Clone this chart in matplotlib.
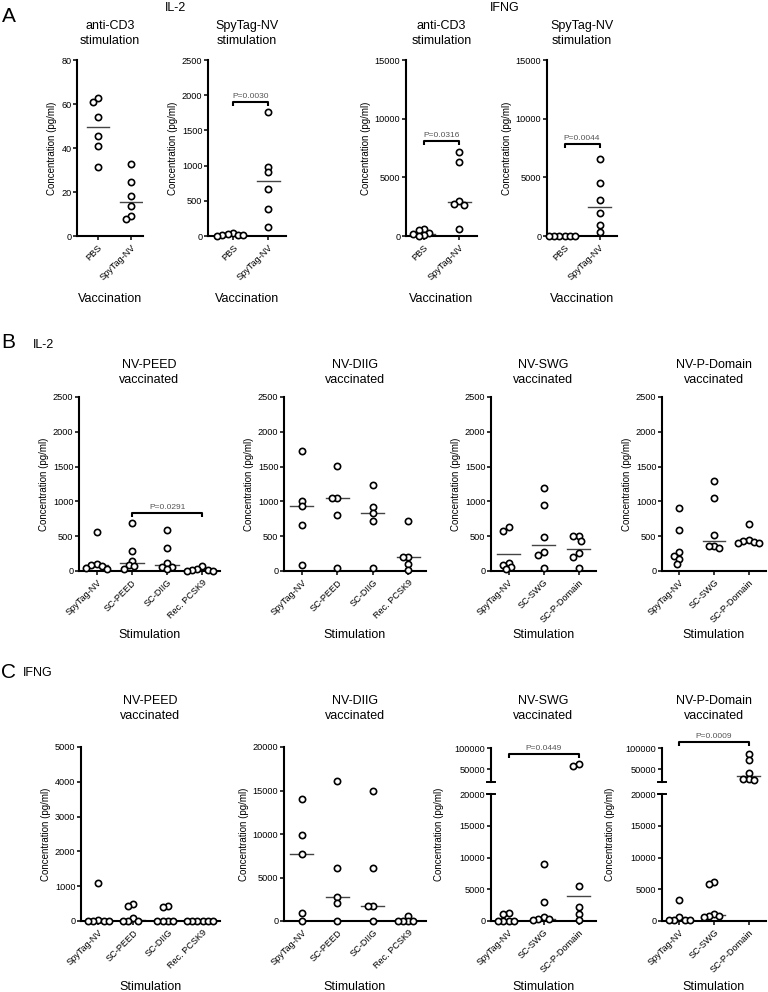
import numpy as np
import matplotlib
matplotlib.use("Agg")
import matplotlib.pyplot as plt

plt.rcParams['font.family'] = ['Liberation Sans', 'DejaVu Sans']

W, H = 768, 992

# ---- A: vaccination groups ----
vacc_groups = ["PBS", "SpyTag-NV"]
a_il2_cd3 = [[62.6, 60.8, 54.1, 45.5, 41.1, 31.5], [32.7, 24.4, 18.0, 13.5, 9.2, 7.7]]
a_il2_cd3_line = [49.5, 15.6]
a_il2_nv = [[45, 30, 20, 15, 10, 5], [1757, 985, 904, 668, 388, 133]]
a_il2_nv_line = [20, 786]
a_ifng_cd3 = [[570, 490, 290, 200, 60, 0], [7140, 6290, 3000, 2710, 2660, 630]]
a_ifng_cd3_line = [200, 2860]
a_ifng_nv = [[40, 30, 20, 10, 5, 0], [6600, 4510, 3030, 1940, 940, 310]]
a_ifng_nv_line = [20, 2460]

# ---- B/C: stimulation groups ----
stim_peed = ["SpyTag-NV", "SC-PEED", "SC-DIIG", "Rec. PCSK9"]
stim_swg = ["SpyTag-NV", "SC-SWG", "SC-P-Domain"]

b_peed = [[557, 96, 86, 67, 38, 24], [691, 288, 149, 82, 72, 29],
          [590, 336, 115, 62, 62, 24], [67, 24, 14, 14, 5, 0]]
b_peed_line = [82, 115, 91, 14]
b_diig = [[1727, 1012, 931, 657, 82], [1507, 1046, 1046, 811, 48],
          [1238, 921, 840, 724, 48], [724, 206, 206, 96, 10]]
b_diig_line = [931, 1046, 840, 200]
b_swg = [[638, 581, 120, 91, 53, 24], [1190, 955, 485, 269, 235, 48],
         [509, 499, 437, 254, 197, 48]]
b_swg_line = [245, 379, 322]
b_pdom = [[907, 590, 278, 221, 173, 101], [1291, 1051, 523, 355, 355, 331],
          [681, 440, 427, 413, 406, 400]]
b_pdom_line = [None, 432, 420]

c_peed = [[1080, 30, 0, 0, 0, 0], [478, 430, 76, 0, 0, 0],
          [430, 411, 0, 0, 0, 0], [0, 0, 0, 0, 0, 0]]
c_peed_line = [0, 20, 0, 0]
c_diig = [[14010, 9940, 7720, 880, 0], [16120, 6140, 2725, 2035, 0],
          [14970, 6140, 1690, 1690, 0], [614, 0, 0, 0, 0]]
c_diig_line = [7720, 2725, 1690, 0]
c_swg = [[1208, 1050, 0, 0, 0, 0], [8976, 3045, 630, 315, 315, 157],
         [62100, 57260, 5512, 2257, 1050, 157]]
c_swg_line = [None, 315, 3937]
c_pdom = [[3255, 680, 157, 157, 157, 157], [6090, 5826, 1050, 787, 787, 600],
          [85500, 71800, 41100, 26600, 26600, 25000]]
c_pdom_line = [None, 945, 34700]

# significance: (group a, group b, bracket height, label)
sig_a_il2_nv = (0, 1, 1900, "P=0.0030")
sig_a_ifng_cd3 = (0, 1, 8060, "P=0.0316")
sig_a_ifng_nv = (0, 1, 7800, "P=0.0044")
sig_b_peed = (1, 3, 830, "P=0.0291")
sig_c_swg = (0, 2, 86000, "P=0.0449")
sig_c_pdom = (0, 2, 113000, "P=0.0009")

fig = plt.figure(figsize=(W / 100, H / 100), dpi=100)


def add_ax(box):
    l, t, r, b = box
    return fig.add_axes([l / W, 1 - b / H, (r - l) / W, (b - t) / H])


def ftext(x, y, s, **kw):
    fig.text(x / W, 1 - y / H, s, **kw)


def style(ax, cats, yticks, ylim, xlim=None):
    for s in ['top', 'right']:
        ax.spines[s].set_visible(False)
    for s in ['left', 'bottom']:
        ax.spines[s].set_linewidth(1.5)
    ax.set_ylim(*ylim)
    ax.set_yticks(yticks)
    ax.tick_params(axis='y', length=3, width=1.1, labelsize=6.6, pad=1)
    ax.set_xlim(*(xlim or (-0.5, len(cats) - 0.5)))
    ax.set_xticks(range(len(cats)))
    ax.set_xticklabels(cats, rotation=45, ha='right', rotation_mode='anchor', fontsize=6.6)
    ax.tick_params(axis='x', length=3, width=1.1, pad=2)


def swarm_x(ax, i, vals, d=5.2):
    t = ax.transData
    ppu = t.transform((1, 0))[0] - t.transform((0, 0))[0]
    cands = [0] + [s * k * d / 2 for k in range(1, 14) for s in (-1, 1)]
    placed, xs = [], []
    for v in vals:
        y = t.transform((0, v))[1]
        for c in cands:
            if all((c - a) ** 2 + (y - b) ** 2 >= d * d for a, b in placed):
                break
        placed.append((c, y))
        xs.append(i + c / ppu)
    return xs


def dots(ax, i, vals):
    if not vals:
        return
    xs = swarm_x(ax, i, vals)
    ax.plot(xs, vals, 'o', mfc='white', mec='black', mew=1.2, ms=4.5,
            ls='none', clip_on=False, zorder=3)


def med(ax, i, m):
    ax.plot([i - 0.33, i + 0.33], [m, m], color='#444444', lw=1, zorder=2)


def bracket(ax, sig):
    i0, i1, y, label = sig
    t = ax.transData
    ppy = t.transform((0, 1))[1] - t.transform((0, 0))[1]
    drop = 4 / ppy
    ax.plot([i0, i0, i1, i1], [y - drop, y, y, y - drop], color='black', lw=1.5,
            clip_on=False, solid_capstyle='butt')
    ax.annotate(label, xy=((i0 + i1) / 2, y), xytext=(0, 1.5), textcoords='offset points',
                ha='center', va='bottom', fontsize=6, color='#555555', annotation_clip=False)


def strip(box, cats, vals, lines, yticks, ylim, xlim=None, sig=None):
    ax = add_ax(box)
    style(ax, cats, yticks, ylim, xlim)
    for i, v in enumerate(vals):
        dots(ax, i, v)
        if lines[i] is not None:
            med(ax, i, lines[i])
    if sig:
        bracket(ax, sig)
    ax.set_ylabel("Concentration (pg/ml)", fontsize=7, labelpad=3)
    return ax


def broken(box_low, box_up, cats, vals, lines, sig):
    lo = add_ax(box_low)
    up = add_ax(box_up)
    style(lo, cats, np.arange(0, 20001, 5000), (0, 20000))
    style(up, cats, [50000, 100000], (20000, 100000))
    up.spines['bottom'].set_visible(False)
    up.set_xticks([])
    for i, v in enumerate(vals):
        dots(lo, i, [x for x in v if x <= 20000])
        dots(up, i, [x for x in v if x > 20000])
        if lines[i] is not None:
            med(lo if lines[i] <= 20000 else up, i, lines[i])
    for ax, yy in [(up, 0), (lo, 1)]:
        ax.plot([-0.035, 0.035], [yy, yy], transform=ax.transAxes, color='black',
                lw=1.4, clip_on=False)
    bracket(up, sig)
    lo.set_ylabel("Concentration (pg/ml)", fontsize=7)
    lo.yaxis.set_label_coords(-0.45, 0.68)
    return lo


def titles(boxes, names, y, xlabel, ylab):
    for (l, t, r, b), name in zip(boxes, names):
        xc = (l + r) / 2
        ftext(xc, y, name, ha='center', va='center', fontsize=9, linespacing=1.4)
        ftext(xc, ylab, xlabel, ha='center', va='center', fontsize=9)


# ---- row A ----
a_boxes = [(77, 60, 143, 236), (208, 60, 286, 236), (406, 60, 477, 236), (547, 60, 617, 236)]
strip(a_boxes[0], vacc_groups, a_il2_cd3, a_il2_cd3_line, np.arange(0, 81, 20), (0, 80), (-0.62, 1.35))
strip(a_boxes[1], vacc_groups, a_il2_nv, a_il2_nv_line, np.arange(0, 2501, 500), (0, 2500), (-0.7, 1.5), sig_a_il2_nv)
strip(a_boxes[2], vacc_groups, a_ifng_cd3, a_ifng_cd3_line, np.arange(0, 15001, 5000), (0, 15000), (-0.5, 1.5), sig_a_ifng_cd3)
strip(a_boxes[3], vacc_groups, a_ifng_nv, a_ifng_nv_line, np.arange(0, 15001, 5000), (0, 15000), (-0.5, 1.5), sig_a_ifng_nv)
titles(a_boxes, ["anti-CD3\nstimulation", "SpyTag-NV\nstimulation"] * 2, 33.5, "Vaccination", 299)
ftext(9, 16, "A", ha='center', va='center', fontsize=15)
ftext(176, 8, "IL-2", ha='center', va='center', fontsize=9)
ftext(505, 8, "IFNG", ha='center', va='center', fontsize=9)

# ---- row B ----
b_boxes = [(79, 397, 220, 571), (284, 397, 426, 571), (491, 397, 596, 571), (662, 397, 766, 571)]
bt = np.arange(0, 2501, 500)
strip(b_boxes[0], stim_peed, b_peed, b_peed_line, bt, (0, 2500), sig=sig_b_peed)
strip(b_boxes[1], stim_peed, b_diig, b_diig_line, bt, (0, 2500))
strip(b_boxes[2], stim_swg, b_swg, b_swg_line, bt, (0, 2500))
strip(b_boxes[3], stim_swg, b_pdom, b_pdom_line, bt, (0, 2500))
vacc_names = ["NV-PEED\nvaccinated", "NV-DIIG\nvaccinated", "NV-SWG\nvaccinated", "NV-P-Domain\nvaccinated"]
titles(b_boxes, vacc_names, 372.5, "Stimulation", 635)
ftext(8, 343, "B", ha='center', va='center', fontsize=15)
ftext(44, 345, "IL-2", ha='center', va='center', fontsize=9)

# ---- row C ----
c_boxes = [(81, 747, 220, 921), (284, 747, 426, 921), (491, 748, 596, 921), (662, 748, 766, 921)]
strip(c_boxes[0], stim_peed, c_peed, c_peed_line, np.arange(0, 5001, 1000), (0, 5000))
strip(c_boxes[1], stim_peed, c_diig, c_diig_line, np.arange(0, 20001, 5000), (0, 20000))
broken((491, 794, 596, 921), (491, 748, 596, 782), stim_swg, c_swg, c_swg_line, sig_c_swg)
broken((662, 794, 766, 921), (662, 748, 766, 782), stim_swg, c_pdom, c_pdom_line, sig_c_pdom)
titles(c_boxes, vacc_names, 708.5, "Stimulation", 987)
ftext(9, 672, "C", ha='center', va='center', fontsize=15)
ftext(38, 673, "IFNG", ha='center', va='center', fontsize=9)

fig.savefig("out.png", dpi=100)
